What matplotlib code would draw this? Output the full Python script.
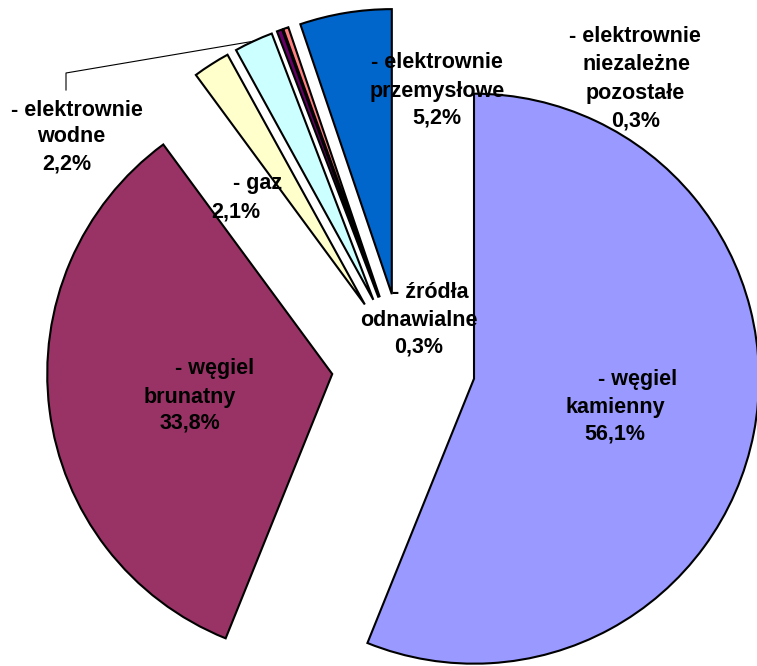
import numpy as np
import matplotlib
matplotlib.use("Agg")
import matplotlib.pyplot as plt

# ---- data (udział w produkcji energii) ----
labels = ["węgiel kamienny", "węgiel brunatny", "gaz", "elektrownie wodne",
          "źródła odnawialne", "elektrownie niezależne pozostałe",
          "elektrownie przemysłowe"]
values = [56.1, 33.8, 2.1, 2.2, 0.3, 0.3, 5.2]
colors = ["#9999FF", "#993366", "#FFFFCC", "#CCFFFF", "#660066", "#FF8080", "#0066CC"]

# label texts, line by line (as in the original chart)
label_lines = [
    ["- węgiel", "kamienny", "56,1%"],
    ["- węgiel", "brunatny", "33,8%"],
    ["- gaz", "2,1%"],
    ["- elektrownie", "wodne", "2,2%"],
    ["- źródła", "odnawialne", "0,3%"],
    ["- elektrownie", "niezależne", "pozostałe", "0,3%"],
    ["- elektrownie", "przemysłowe", "5,2%"],
]
# pixel positions of every line centre (x list, y list)
label_x = [[638, 615, 615], [215, 190, 190], [258, 236], [77, 71, 67],
           [430, 419, 419], [635, 636, 635, 636], [437, 437, 437]]
label_y = [[379, 407, 434], [368, 397, 423], [183, 212], [110, 137, 164],
           [292, 320, 347], [37, 65, 93, 121], [63, 91, 118]]

W, H = 757, 666
cx, cy, R = 403.5, 365, 285   # pie centre and radius in pixels

fig = plt.figure(figsize=(W / 100, H / 100), dpi=100)
ax = fig.add_axes([0, 0, 1, 1])

wedges, _ = ax.pie(values, colors=colors, startangle=90, counterclock=False,
                   explode=[0.252] * len(values), radius=1.0,
                   wedgeprops=dict(edgecolor="black", linewidth=1.5))

ax.set_xlim(-cx / R, (W - cx) / R)
ax.set_ylim(-(H - cy) / R, cy / R)
ax.set_aspect("equal")
ax.axis("off")

# leader line for "elektrownie wodne"
w = wedges[3]
mid = np.deg2rad((w.theta1 + w.theta2) / 2)
ex = w.center[0] + w.r * np.cos(mid)
ey = w.center[1] + w.r * np.sin(mid)
px = lambda x: (x - cx) / R
py = lambda y: (cy - y) / R
ax.plot([px(66), px(66), ex], [py(90), py(73), ey], color="black", lw=0.8)

for lines, xs, ys in zip(label_lines, label_x, label_y):
    for t, x, y in zip(lines, xs, ys):
        ax.text(px(x), py(y), t, ha="center", va="center",
                fontsize=15.5, fontweight="bold", family="Liberation Sans")

fig.savefig("out.png", dpi=100)
